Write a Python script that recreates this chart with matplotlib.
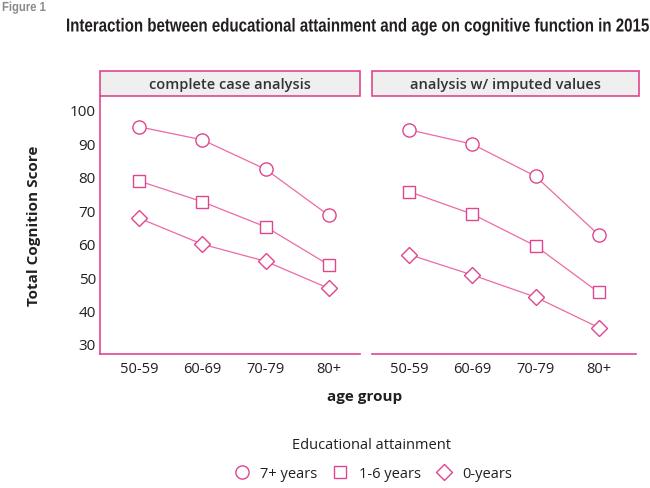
import matplotlib.pyplot as plt
from matplotlib.patches import Rectangle
from matplotlib.lines import Line2D
from matplotlib.patheffects import AbstractPathEffect
from matplotlib.transforms import Affine2D, Bbox

age_groups = ["50-59", "60-69", "70-79", "80+"]
panels = ["complete case analysis", "analysis w/ imputed values"]
edu_levels = ["7+ years", "1-6 years", "0-years"]

# complete case analysis
cc_7plus = [94.9, 91.0, 82.2, 68.4]
cc_1to6 = [78.7, 72.5, 65.0, 53.6]
cc_0 = [67.6, 59.8, 54.7, 46.6]
# analysis with imputed values
imp_7plus = [94.0, 89.7, 80.1, 62.6]
imp_1to6 = [75.5, 68.8, 59.3, 45.4]
imp_0 = [56.7, 50.6, 44.0, 34.9]

yticks = [30, 40, 50, 60, 70, 80, 90, 100]

PINK = "#e0458f"
LINE_PINK = "#ec6aa6"
STRIP_GRAY = "#efefef"
TEXT = "#231f20"
BODY_FONT = "Open Sans"
HEAD_FONT = "Liberation Sans"
markers = ["o", "s", "D"]
msizes = [9.5, 8.3, 8.5]


class Squeeze(AbstractPathEffect):
    """Draw text narrower, as a condensed face would, keeping one x fixed."""

    def __init__(self, x0, sx):
        super().__init__()
        self.x0 = x0
        self.sx = sx

    def draw_path(self, renderer, gc, tpath, affine, rgbFace=None):
        squeeze = (Affine2D().translate(-self.x0, 0).scale(self.sx, 1)
                   .translate(self.x0, 0))
        renderer.draw_path(gc, tpath, affine + squeeze, rgbFace)


def condense(text, x0, target_w, renderer):
    # squeeze the drawn glyphs and report the squeezed extent as well
    full = text.get_window_extent(renderer)
    sx = target_w / full.width
    text.set_path_effects([Squeeze(x0, sx)])
    orig = text.get_window_extent

    def squeezed_extent(renderer=None, dpi=None):
        bb = orig(renderer, dpi)
        return Bbox([[x0 + (bb.x0 - x0) * sx, bb.y0],
                     [x0 + (bb.x1 - x0) * sx, bb.y1]])

    text.get_window_extent = squeezed_extent


fig = plt.figure(figsize=(6.5, 4.89), dpi=100)
W, H = 650, 489


def px_axes(x0, x1, y0, y1):
    return fig.add_axes([x0 / W, 1 - y1 / H, (x1 - x0) / W, (y1 - y0) / H])


ax_left = px_axes(100, 360, 97, 355)
ax_right = px_axes(372, 636, 97, 355)

series = [
    (ax_left, [cc_7plus, cc_1to6, cc_0], (-0.616, 3.49)),
    (ax_right, [imp_7plus, imp_1to6, imp_0], (-0.59, 3.59)),
]

x = list(range(len(age_groups)))
for ax, data, xlim in series:
    for vals, m, ms in zip(data, markers, msizes):
        ax.plot(x, vals, color=LINE_PINK, lw=0.9, zorder=2)
        ax.plot(x, vals, linestyle="none", marker=m, markersize=ms,
                markerfacecolor="white", markeredgecolor=PINK,
                markeredgewidth=1.0, zorder=3)
    ax.set_xlim(*xlim)
    ax.set_ylim(27.0, 104.1)
    ax.set_xticks(x)
    ax.set_xticklabels(age_groups, fontsize=10.5, family=BODY_FONT, color=TEXT)
    ax.tick_params(axis="x", length=0, pad=5)
    ax.tick_params(axis="y", length=0, pad=3)
    for s in ["top", "right"]:
        ax.spines[s].set_visible(False)
    for s in ["bottom", "left"]:
        ax.spines[s].set_color(PINK)
        ax.spines[s].set_linewidth(1.2)
    ax.patch.set_alpha(0)

# strip boxes
strip_h = 25 / 258
ax_left.add_patch(Rectangle((0, 1), 1, strip_h, transform=ax_left.transAxes,
                            facecolor=STRIP_GRAY, edgecolor=PINK, lw=1.2,
                            clip_on=False))
ax_left.text(0.5, 1 + strip_h / 2, panels[0], transform=ax_left.transAxes,
             ha="center", va="center", fontsize=10.5, weight="semibold",
             family=BODY_FONT, color="#333333")
ax_right.add_patch(Rectangle((0, 1), 267 / 264, strip_h,
                             transform=ax_right.transAxes,
                             facecolor=STRIP_GRAY, edgecolor=PINK, lw=1.2,
                             clip_on=False))
ax_right.text(0.505, 1 + strip_h / 2, panels[1], transform=ax_right.transAxes,
              ha="center", va="center", fontsize=10.5, weight="semibold",
              family=BODY_FONT, color="#333333")

ax_left.set_yticks(yticks)
ax_left.set_yticklabels([str(t) for t in yticks], fontsize=11,
                        family=BODY_FONT, color=TEXT)
ax_right.spines["left"].set_visible(False)
ax_right.set_yticks([])

ax_left.set_ylabel("Total Cognition Score", fontsize=11, weight="bold",
                   family=BODY_FONT, color=TEXT, labelpad=21)

fig.text(365 / W, 1 - 397 / H, "age group", ha="center", va="center",
         fontsize=11, weight="bold", family=BODY_FONT, color=TEXT)

fig_lbl = fig.text(2 / W, 1 - 9 / H, "Figure 1", ha="left", va="center",
                   fontsize=9.5, weight="bold", family=HEAD_FONT,
                   color="#8a8a8a")
title = fig.text(648 / W, 1 - 28 / H,
                 "Interaction between educational attainment and age on cognitive function in 2015",
                 ha="right", va="center", fontsize=13.5, weight="bold",
                 family=HEAD_FONT, color=TEXT)

# condensed look: squeeze each heading to the width it has in the reference
renderer = fig.canvas.get_renderer()
condense(title, 648, 582, renderer)
condense(fig_lbl, 2, 44, renderer)

handles = [
    Line2D([], [], linestyle="none", marker=m, markersize=ms,
           markerfacecolor="white", markeredgecolor=PINK, markeredgewidth=1.0)
    for m, ms in zip(markers, msizes)
]
leg = fig.legend(handles, edu_levels, loc="center",
                 bbox_to_anchor=(371 / W, 1 - 460 / H), ncol=3, frameon=False,
                 title="Educational attainment", handletextpad=0.45,
                 handlelength=1.6, columnspacing=0.8,
                 prop={"family": BODY_FONT, "size": 10.5})
leg.get_title().set_fontfamily(BODY_FONT)
leg.get_title().set_fontsize(10.5)
leg.get_title().set_color(TEXT)
leg._legend_box.sep = 10
for t in leg.get_texts():
    t.set_color(TEXT)

fig.savefig("out.png", dpi=100)
